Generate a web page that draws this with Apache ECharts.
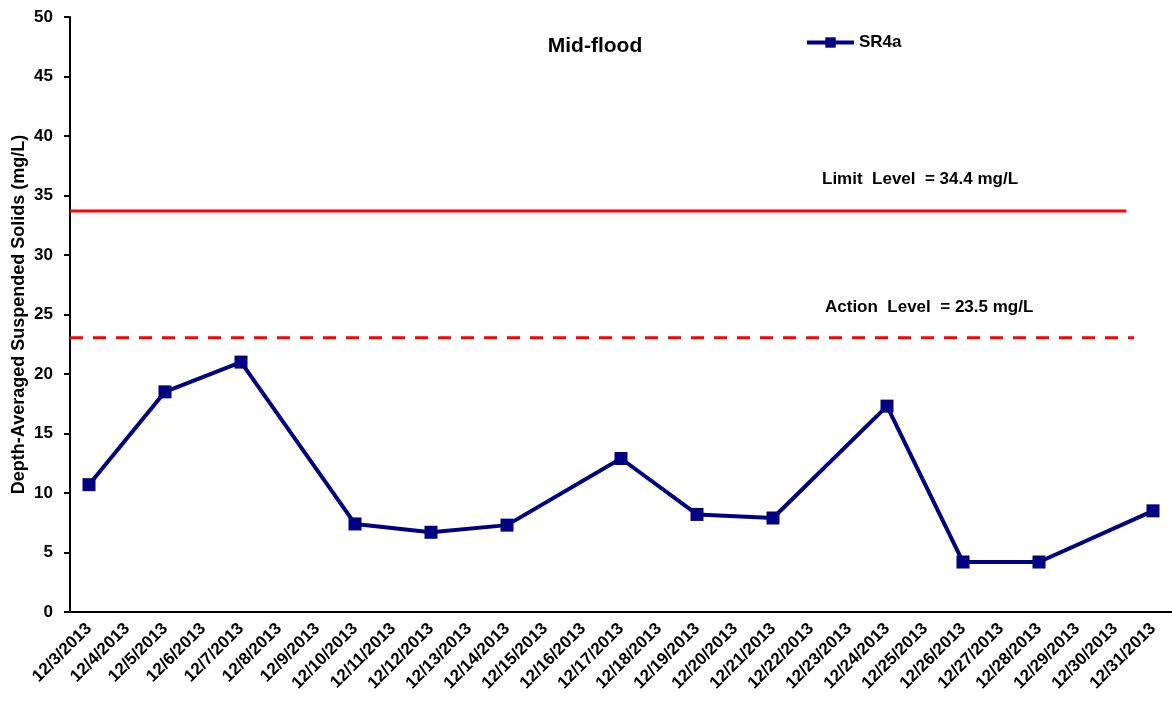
<!DOCTYPE html>
<html>
<head>
<meta charset="utf-8">
<script src="https://cdn.jsdelivr.net/npm/echarts@6/dist/echarts.min.js"></script>
<style>html,body{margin:0;padding:0;background:#fff}#c{width:1172px;height:702px}</style>
</head>
<body>
<div id="c"></div>
<script>
const categories = ['12/3/2013','12/4/2013','12/5/2013','12/6/2013','12/7/2013','12/8/2013','12/9/2013','12/10/2013','12/11/2013','12/12/2013','12/13/2013','12/14/2013','12/15/2013','12/16/2013','12/17/2013','12/18/2013','12/19/2013','12/20/2013','12/21/2013','12/22/2013','12/23/2013','12/24/2013','12/25/2013','12/26/2013','12/27/2013','12/28/2013','12/29/2013','12/30/2013','12/31/2013'];
const sr4a = [10.7,null,18.5,null,21.0,null,null,7.4,null,6.7,null,7.3,null,null,12.9,null,8.2,null,7.9,null,null,17.3,null,4.2,null,4.2,null,null,8.5];
const limitLine = [[0,33.7],[27.8,33.7]];
const actionLine = [[0,23.05],[28.0,23.05]];
const yTicks = [0,5,10,15,20,25,30,35,40,45,50];

const chart = echarts.init(document.getElementById('c'));
const F = 'Liberation Sans, Arial, sans-serif';
chart.setOption({
  animation:false,
  backgroundColor:'#fff',
  grid:{left:70,right:0,top:17,bottom:90,containLabel:false,outerBoundsMode:'none'},
  legend:{
    data:[{name:'SR4a'}],
    left:800, top:29,
    itemWidth:47, itemHeight:13, itemGap:5,
    lineStyle:{width:4},
    textStyle:{fontFamily:F,fontWeight:'bold',fontSize:17,color:'#000',padding:[0,0,0,0]}
  },
  graphic:[
    {type:'text',x:595,y:46,style:{text:'Mid-flood',fontFamily:F,fontWeight:'bold',fontSize:21,fill:'#000',align:'center',verticalAlign:'middle'}},
    {type:'text',x:822,y:179,style:{text:'Limit  Level  = 34.4 mg/L',fontFamily:F,fontWeight:'bold',fontSize:17,fill:'#000',verticalAlign:'middle'}},
    {type:'text',x:825,y:307,style:{text:'Action  Level  = 23.5 mg/L',fontFamily:F,fontWeight:'bold',fontSize:17,fill:'#000',verticalAlign:'middle'}}
  ],
  xAxis:[{
    type:'category',data:categories,boundaryGap:true,
    axisLine:{lineStyle:{color:'#000',width:2}},
    axisTick:{alignWithLabel:false,length:6,lineStyle:{color:'#000',width:2}},
    axisLabel:{rotate:45,interval:0,fontFamily:F,fontWeight:'bold',fontSize:17,color:'#000',margin:14},
    splitLine:{show:false}
  },{
    type:'value',min:0,max:29,show:false
  }],
  yAxis:{
    type:'value',min:0,max:50,interval:5,
    name:'Depth-Averaged Suspended Solids (mg/L)',
    nameLocation:'middle',nameGap:42,nameMoveOverlap:false,
    nameTextStyle:{fontFamily:F,fontWeight:'bold',fontSize:18,color:'#000'},
    axisLine:{show:true,lineStyle:{color:'#000',width:2}},
    axisTick:{show:true,length:6,lineStyle:{color:'#000',width:2}},
    axisLabel:{fontFamily:F,fontWeight:'bold',fontSize:17,color:'#000',margin:17},
    splitLine:{show:false}
  },
  series:[{
    name:'SR4a',type:'line',data:sr4a,connectNulls:true,
    symbol:'rect',symbolSize:13,
    lineStyle:{color:'#000080',width:4},
    itemStyle:{color:'#000080'}
  },{
    name:'limit',type:'line',xAxisIndex:1,data:limitLine,symbol:'none',
    lineStyle:{color:'#ff0000',width:3},silent:true
  },{
    name:'action',type:'line',xAxisIndex:1,data:actionLine,symbol:'none',
    lineStyle:{color:'#ff0000',width:3,type:[13,10]},silent:true
  }]
});
</script>
</body>
</html>
